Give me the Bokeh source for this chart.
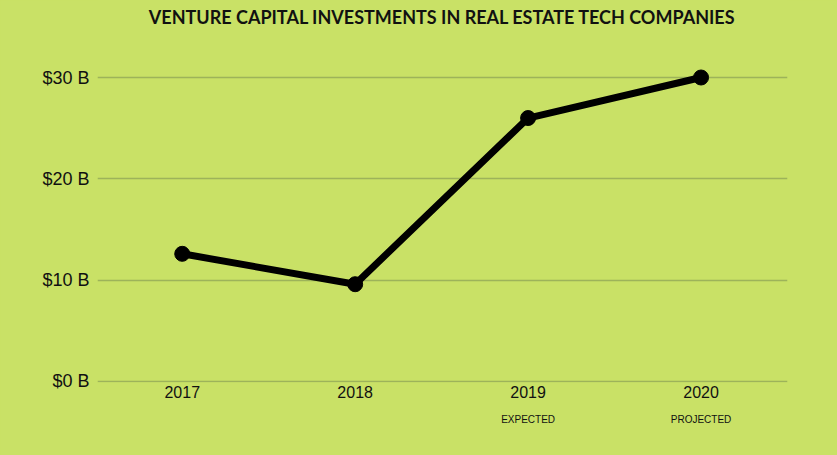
from bokeh.plotting import figure
from bokeh.models import Range1d, FixedTicker, LinearAxis, CustomJSTickFormatter, Label
from bokeh.embed import file_html
from bokeh.resources import INLINE

title = "VENTURE CAPITAL INVESTMENTS IN REAL ESTATE TECH COMPANIES"
years = ["2017", "2018", "2019", "2020"]
sublabels = ["", "", "EXPECTED", "PROJECTED"]
values = [12.6, 9.6, 26.0, 30.0]
y_ticks = [0, 10, 20, 30]

BG = "#C9E166"
GRID = "#9DB35A"

xs = list(range(len(years)))
x0, x1 = -0.49, len(years) - 0.5

p = figure(width=837, height=455, output_backend="svg", toolbar_location=None,
           x_range=Range1d(x0, x1), y_range=Range1d(-0.1, 37.6),
           min_border_left=97, min_border_right=50, min_border_top=0, min_border_bottom=73)
p.background_fill_color = BG
p.border_fill_color = BG
p.outline_line_color = None

p.add_layout(Label(x=(x0 + x1) / 2, y=366, x_units="data", y_units="screen", text=title,
                   text_align="center", text_baseline="middle",
                   text_font="Lato", text_font_style="bold", text_font_size="18px",
                   text_color="#111111"))

p.line(xs, values, line_color="black", line_width=7)
p.scatter(xs, values, size=15, fill_color="black", line_color="black")

p.xaxis.ticker = FixedTicker(ticks=xs)
p.xaxis.major_label_overrides = {i: y for i, y in enumerate(years)}
p.xaxis.axis_line_color = None
p.xaxis.major_tick_line_color = None
p.xaxis.minor_tick_line_color = None
p.xaxis.major_label_text_font = "Liberation Sans"
p.xaxis.major_label_text_font_size = "16px"
p.xaxis.major_label_text_color = "#111111"
p.xaxis.major_label_standoff = -3
p.xgrid.grid_line_color = None

sub_ticks = [i for i, s in enumerate(sublabels) if s]
ax2 = LinearAxis(ticker=FixedTicker(ticks=sub_ticks),
                 major_label_overrides={i: sublabels[i] for i in sub_ticks},
                 axis_line_color=None, major_tick_line_color=None, minor_tick_line_color=None,
                 major_label_text_font="Liberation Sans", major_label_text_font_size="10px",
                 major_label_text_color="#111111", major_label_standoff=7)
p.add_layout(ax2, "below")

p.yaxis.ticker = FixedTicker(ticks=y_ticks)
p.yaxis.formatter = CustomJSTickFormatter(code="return '$' + tick + ' B';")
p.yaxis.axis_line_color = None
p.yaxis.major_tick_line_color = None
p.yaxis.minor_tick_line_color = None
p.yaxis.major_label_text_font = "Liberation Sans"
p.yaxis.major_label_text_font_size = "18px"
p.yaxis.major_label_text_color = "#111111"
p.yaxis.major_label_standoff = 2
p.ygrid.grid_line_color = GRID
p.ygrid.grid_line_width = 1.5

html = file_html(p, INLINE)
html = html.replace("<body>", '<body style="background-color:%s;">' % BG)
open("out.html", "w").write(html)
